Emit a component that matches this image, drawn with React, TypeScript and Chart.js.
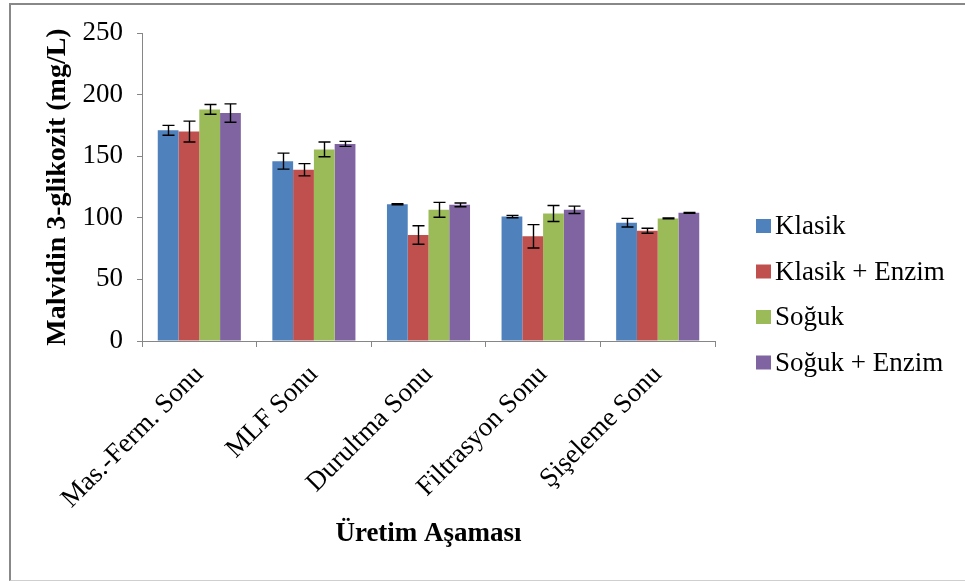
import React, { useEffect, useRef } from "react";
import { Chart, registerables } from "chart.js";

Chart.register(...registerables);

const categories = ["Mas.-Ferm. Sonu", "MLF Sonu", "Durultma Sonu", "Filtrasyon Sonu", "Şişeleme Sonu"];
const seriesNames = ["Klasik", "Klasik + Enzim", "Soğuk", "Soğuk + Enzim"];
const klasik = [171, 146, 111, 101, 96];
const klasikErr = [4, 6.5, 0.5, 1, 3.5];
const klasikEnzim = [170, 139, 86, 85, 89.5];
const klasikEnzimErr = [8.5, 5, 7.5, 9.5, 2];
const soguk = [188, 155.5, 106.5, 103.5, 99.5];
const sogukErr = [4, 6, 6, 6.5, 0.3];
const sogukEnzim = [185, 160, 110.5, 106.5, 104];
const sogukEnzimErr = [7.5, 2, 1.5, 3, 0.3];
const yTicks = [0, 50, 100, 150, 200, 250];
const colors = ["#4F81BD", "#C0504D", "#9BBB59", "#8064A2"];

const FONT = "'Liberation Serif', 'Times New Roman', serif";

const errorBarPlugin = {
  id: "errorBars",
  afterDatasetsDraw(chart: any) {
    const ctx = chart.ctx;
    const yScale = chart.scales.y;
    ctx.save();
    ctx.strokeStyle = "#000";
    ctx.lineWidth = 1.4;
    chart.data.datasets.forEach((ds: any, i: number) => {
      const meta = chart.getDatasetMeta(i);
      meta.data.forEach((bar: any, j: number) => {
        const v = ds.data[j];
        const e = ds.errors[j];
        const yTop = yScale.getPixelForValue(v + e);
        const yBot = yScale.getPixelForValue(v - e);
        const x = Math.round(bar.x) + 0.5;
        const cap = 6;
        ctx.beginPath();
        ctx.moveTo(x, yTop);
        ctx.lineTo(x, yBot);
        ctx.moveTo(x - cap, yTop);
        ctx.lineTo(x + cap, yTop);
        ctx.moveTo(x - cap, yBot);
        ctx.lineTo(x + cap, yBot);
        ctx.stroke();
      });
    });
    ctx.restore();
  },
};

const legendPlugin = {
  id: "customLegend",
  afterDraw(chart: any) {
    const ctx = chart.ctx;
    const area = chart.chartArea;
    const x0 = area.right + 41;
    const yStart = 226;
    const step = 45.5;
    ctx.save();
    ctx.font = `27px ${FONT}`;
    ctx.textBaseline = "middle";
    ctx.textAlign = "left";
    chart.data.datasets.forEach((ds: any, i: number) => {
      const yc = yStart + i * step;
      ctx.fillStyle = ds.backgroundColor;
      ctx.fillRect(x0, yc - 7, 15, 14);
      ctx.fillStyle = "#000";
      ctx.fillText(ds.label, x0 + 19, yc + 1);
    });
    ctx.restore();
  },
};

export default function App() {
  const ref = useRef<HTMLCanvasElement>(null);
  useEffect(() => {
    if (!ref.current) return;
    const seriesData = [klasik, klasikEnzim, soguk, sogukEnzim];
    const seriesErr = [klasikErr, klasikEnzimErr, sogukErr, sogukEnzimErr];
    const chart = new Chart(ref.current, {
      type: "bar",
      data: {
        labels: categories,
        datasets: seriesNames.map((name, i) => ({
          label: name,
          data: seriesData[i],
          errors: seriesErr[i],
          backgroundColor: colors[i],
          borderWidth: 0,
          categoryPercentage: 0.725,
          barPercentage: 1.0,
        })) as any,
      },
      options: {
        responsive: false,
        animation: false,
        devicePixelRatio: 1,
        layout: { padding: { left: 10, right: 250, top: 33, bottom: 10 } },
        plugins: { legend: { display: false }, tooltip: { enabled: false } },
        scales: {
          x: {
            afterFit(scale: any) {
              scale.height = 230;
            },
            grid: {
              display: true,
              drawOnChartArea: false,
              drawTicks: true,
              tickLength: 6,
              color: "#868686",
              offset: true,
            },
            border: { display: true, color: "#868686", width: 1 },
            ticks: {
              autoSkip: false,
              minRotation: 45,
              maxRotation: 45,
              padding: 12,
              color: "#000",
              font: { family: FONT, size: 27 },
            },
            title: {
              display: true,
              text: "Üretim Aşaması",
              color: "#000",
              font: { family: FONT, size: 27, weight: "bold" },
              padding: { top: 0, bottom: 21 },
            },
          },
          y: {
            min: 0,
            max: 250,
            afterFit(scale: any) {
              scale.width = 132;
            },
            afterBuildTicks(scale: any) {
              scale.ticks = yTicks.map((v) => ({ value: v }));
            },
            grid: {
              display: true,
              drawOnChartArea: false,
              drawTicks: true,
              tickLength: 5,
              color: "#868686",
            },
            border: { display: true, color: "#868686", width: 1 },
            ticks: {
              padding: 14,
              color: "#000",
              font: { family: FONT, size: 27 },
            },
            title: {
              display: true,
              text: "Malvidin 3-glikozit (mg/L)",
              color: "#000",
              font: { family: FONT, size: 28, weight: "bold" },
              padding: { top: 31, bottom: 0 },
            },
          },
        },
      } as any,
      plugins: [errorBarPlugin, legendPlugin],
    });
    return () => chart.destroy();
  }, []);

  return (
    <div
      style={{
        position: "fixed",
        left: 0,
        top: 0,
        width: 965,
        height: 581,
        overflow: "hidden",
        background: "#fff",
      }}
    >
      <div
        style={{
          position: "absolute",
          left: 9,
          top: 3,
          width: 980,
          height: 575,
          borderTop: "2px solid #888",
          borderLeft: "2px solid #888",
          borderBottom: "1px solid #cfcfcf",
        }}
      />
      <canvas
        ref={ref}
        width={965}
        height={581}
        style={{ position: "absolute", left: 0, top: 0, width: 965, height: 581 }}
      />
    </div>
  );
}
